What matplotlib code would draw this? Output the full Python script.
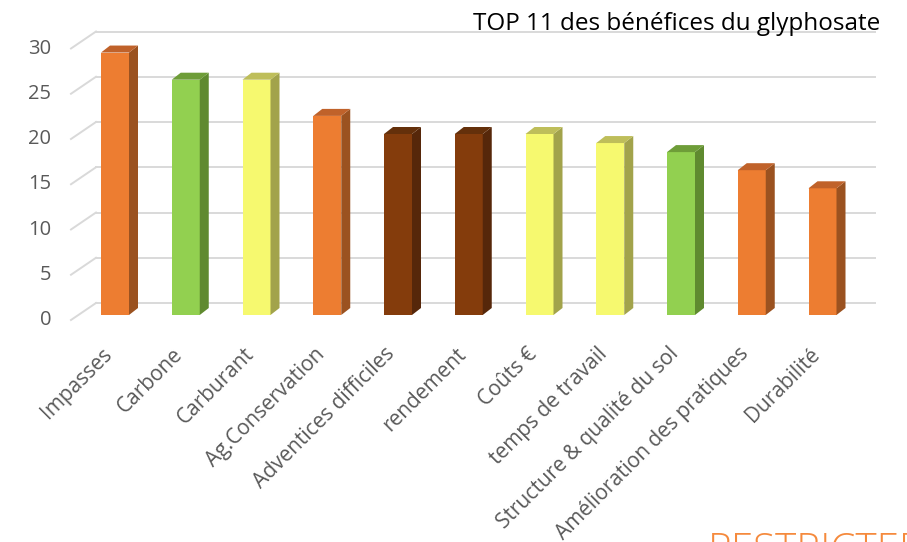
import numpy as np
import matplotlib.pyplot as plt
from matplotlib.patches import Polygon

plt.rcParams['font.family'] = ['Open Sans', 'DejaVu Sans']

# data
categories = ['Impasses', 'Carbone', 'Carburant', 'Ag.Conservation',
              'Adventices difficiles', 'rendement', 'Coûts €',
              'temps de travail', 'Structure & qualité du sol',
              'Amélioration des pratiques', 'Durabilité']
values = [29, 26, 26, 22, 20, 20, 20, 19, 18, 16, 14]
groups = ['orange', 'green', 'yellow', 'orange', 'brown', 'brown',
          'yellow', 'yellow', 'green', 'orange', 'orange']
yticks = [0, 5, 10, 15, 20, 25, 30]

# front, side, top shades
shades = {
    'orange': ('#ED7D31', '#9B5220', '#C0622A'),
    'green': ('#92D050', '#5F8A2F', '#6E9D38'),
    'yellow': ('#F6F96F', '#A2A34B', '#BEBE5A'),
    'brown': ('#843C0C', '#56270A', '#64300B'),
}

W, H = 907, 542
fig = plt.figure(figsize=(W / 100, H / 100), dpi=100)
ax = fig.add_axes([0, 0, 1, 1])
ax.set_axis_off()

# pixel geometry of the chart
px_x0, px_dx = 115, 70.75      # first bar center, bar spacing
px_y0, px_dy = 315, 9.05       # baseline (from top), px per unit
ax.set_xlim(-px_x0 / px_dx, (W - px_x0) / px_dx)
ax.set_ylim((px_y0 - H) / px_dy, px_y0 / px_dy)

width = 28 / px_dx
ddx, ddy = 9 / px_dx, 7 / px_dy          # bar depth
back_dy = 12 / px_dy                      # back wall offset
front_dy = -5 / px_dy                     # front edge offset
xb0, xb1 = (96 - px_x0) / px_dx, (875 - px_x0) / px_dx
xf0 = (71 - px_x0) / px_dx

# back wall grid + left diagonals
for t in yticks:
    ax.plot([xb0, xb1], [t + back_dy, t + back_dy], color='#D9D9D9', lw=1.4, zorder=1)
    ax.plot([xf0, xb0], [t + front_dy, t + back_dy], color='#D9D9D9', lw=1.4, zorder=1)
    ax.text((51 - px_x0) / px_dx, t + front_dy, str(t), ha='right', va='center',
            fontsize=14.5, color='#595959')

x = np.arange(len(values))
front = [shades[g][0] for g in groups]
ax.bar(x, values, width=width, color=front, zorder=3)
for xi, v, g in zip(x, values, groups):
    f, s, tp = shades[g]
    r = xi + width / 2
    l = xi - width / 2
    ax.add_patch(Polygon([(r, 0), (r + ddx, ddy), (r + ddx, v + ddy), (r, v)],
                         closed=True, facecolor=s, edgecolor='none', zorder=3))
    ax.add_patch(Polygon([(l, v), (r, v), (r + ddx, v + ddy), (l + ddx, v + ddy)],
                         closed=True, facecolor=tp, edgecolor='none', zorder=3))

# category labels
for xi, c in zip(x, categories):
    ax.text(xi - 6 / px_dx, (px_y0 - 351) / px_dy, c, rotation=45,
            rotation_mode='anchor', ha='right', va='center',
            fontsize=15, color='#595959')

fig.text(473 / W, (H - 30) / H, 'TOP 11 des bénéfices du glyphosate',
         ha='left', va='baseline', fontsize=17.5, color='black')
fig.text(708 / W, -0.037, 'RESTRICTED', ha='left', va='baseline',
         fontsize=29, fontweight='light', color='#F58A3D')

fig.savefig('out.png', dpi=100)
